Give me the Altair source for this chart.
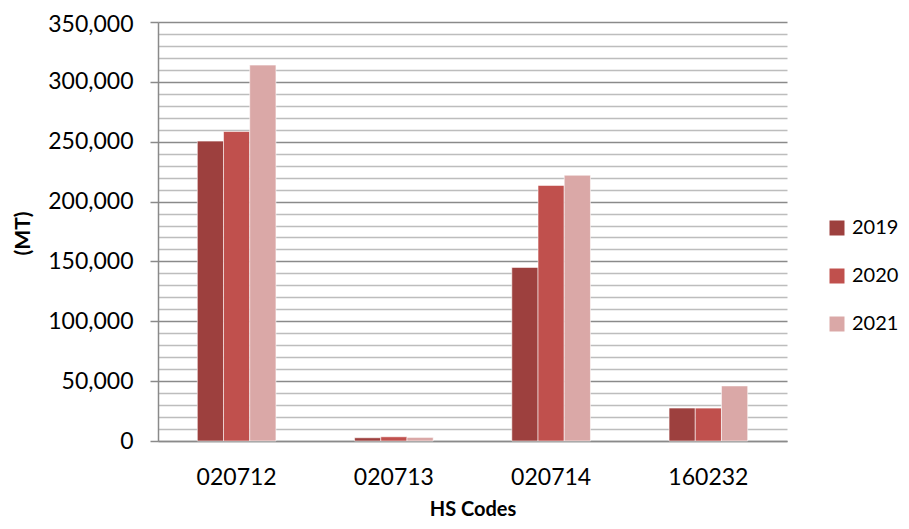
import altair as alt
import pandas as pd

codes = ["020712", "020713", "020714", "160232"]
years = ["2019", "2020", "2021"]
v2019 = [250500, 2700, 145000, 27500]
v2020 = [258500, 3500, 213500, 27500]
v2021 = [314000, 3000, 222000, 46000]
colors = ["#9D403E", "#C0504D", "#DAA8A7"]
y_ticks = list(range(0, 350001, 10000))

rows = []
for yr, vals in zip(years, [v2019, v2020, v2021]):
    for c, v in zip(codes, vals):
        rows.append({"code": c, "year": yr, "value": v})
df = pd.DataFrame(rows)

FONT = "Lato"

chart = alt.Chart(df).mark_bar(stroke="#ffffff", strokeWidth=0.8, strokeOpacity=0.7).encode(
    x=alt.X(
        "code:N",
        sort=codes,
        scale=alt.Scale(paddingInner=0.5, paddingOuter=0.25),
        axis=alt.Axis(
            title="HS Codes",
            labelAngle=0,
            ticks=False,
            labelPadding=25,
            labelFontSize=23,
            labelFont=FONT,
            labelColor="#000000",
            titleFont=FONT,
            titleFontSize=20,
            titleFontWeight="bold",
            titleColor="#000000",
            titleBaseline="alphabetic",
            titleY=74,
            domainColor="#8A8A8A",
            domainWidth=1.5,
            grid=False,
        ),
    ),
    xOffset=alt.XOffset("year:N", sort=years, scale=alt.Scale(paddingInner=0, paddingOuter=0)),
    y=alt.Y(
        "value:Q",
        scale=alt.Scale(domain=[0, 350000], nice=False),
        axis=alt.Axis(
            title="(MT)",
            values=y_ticks,
            labelExpr="datum.value % 50000 === 0 ? format(datum.value, ',') : ''",
            labelFontSize=23,
            labelFont=FONT,
            labelColor="#000000",
            labelPadding=17,
            labelOffset=alt.condition("datum.value === 350000", alt.value(2), alt.value(0)),
            tickSize=alt.condition("datum.value % 50000 === 0", alt.value(8), alt.value(0)),
            tickColor="#8A8A8A",
            tickWidth=1.5,
            grid=True,
            gridColor=alt.condition("datum.value % 50000 === 0", alt.value("#8A8A8A"), alt.value("#BDBDBD")),
            gridWidth=1.5,
            domainColor="#8A8A8A",
            domainWidth=1.5,
            titleFont=FONT,
            titleFontSize=21,
            titleFontWeight="bold",
            titleColor="#000000",
            titleAngle=270,
            titleAlign="center",
            titleBaseline="bottom",
            titleX=-125,
            titleY=211,
        ),
    ),
    color=alt.Color(
        "year:N",
        sort=years,
        scale=alt.Scale(domain=years, range=colors),
        legend=alt.Legend(
            title=None,
            orient="none",
            legendX=669,
            legendY=196,
            symbolType="square",
            symbolSize=225,
            symbolStrokeWidth=0,
            labelFontSize=20,
            labelFont=FONT,
            labelColor="#000000",
            labelOffset=5,
            rowPadding=28,
            padding=0,
        ),
    ),
).properties(
    width=629,
    height=419,
    autosize=alt.AutoSizeParams(type="none"),
    padding={"left": 150, "top": 14, "right": 114, "bottom": 80},
).configure_view(stroke=None)

chart.save("out.html", embed_options={"renderer": "svg", "actions": False})
